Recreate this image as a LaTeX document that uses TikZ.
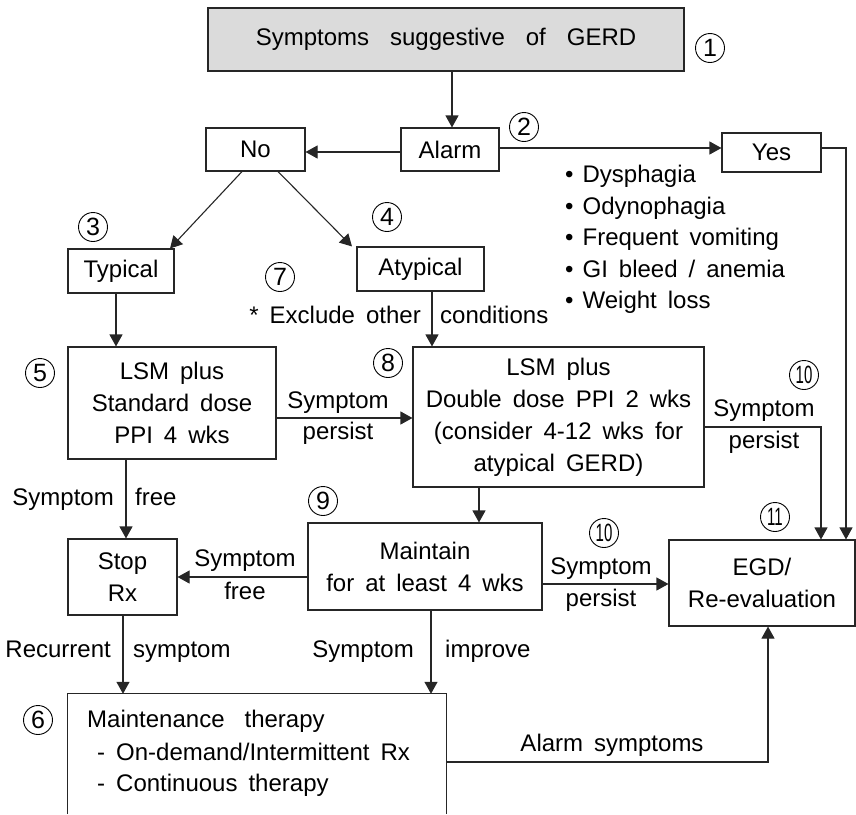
\documentclass[tikz,border=0pt]{standalone}
\usepackage{fontspec}
\setmainfont{Liberation Sans}[WordSpace=1.65]
\usetikzlibrary{arrows.meta}
\newcommand{\myfs}{\fontsize{24}{32}\selectfont}
\newcommand{\narrow}[1]{\scalebox{0.6}[1]{#1}}
\begin{document}
\begin{tikzpicture}[x=1pt,y=-1pt,
  box/.style={draw=black!85, line width=1.1pt, inner sep=0pt, align=center, font=\myfs},
  lbl/.style={inner sep=0pt, font=\myfs, text height=17pt, text depth=0pt},
  conn/.style={draw=black!85, line width=1.1pt},
  arr/.style={conn, -{Triangle[length=12pt,width=13pt]}},
  num/.style={circle, draw=black, line width=0.9pt, inner sep=0pt, minimum size=29pt, font=\fontsize{25}{25}\selectfont}]
\useasboundingbox (0,0) rectangle (856,814);

% helper coordinates for connector positions
\coordinate (cTop) at (452,0);
\coordinate (yL) at (0,152);
\coordinate (yR) at (0,148);
\coordinate (xYes) at (846,0);
\coordinate (c242) at (242,0);
\coordinate (c170) at (170,0);
\coordinate (c278) at (278,0);
\coordinate (c352) at (352,0);
\coordinate (c116) at (116,0);
\coordinate (c432) at (432,0);
\coordinate (y418) at (0,418);
\coordinate (y427) at (0,427);
\coordinate (c821) at (821,0);
\coordinate (c126) at (126,0);
\coordinate (c479) at (479,0);
\coordinate (y577) at (0,577);
\coordinate (y584) at (0,584);
\coordinate (c123) at (123,0);
\coordinate (c431) at (431,0);
\coordinate (y762) at (0,762);
\coordinate (c768) at (768,0);

% boxes
\node[box, fill=gray!28, minimum width=476pt, minimum height=63pt] (top) at (446,39.5)
  {Symptoms\hspace{21pt}suggestive\hspace{21pt}of\hspace{21pt}GERD};
\node[box, minimum width=98pt, minimum height=43pt] (alarm) at (450,149.5) {Alarm};
\node[box, minimum width=99pt, minimum height=43pt] (no) at (255.5,149.5) {No};
\node[box, minimum width=99pt, minimum height=39pt] (yes) at (771.5,152.5) {Yes};
\node[box, minimum width=106pt, minimum height=44pt] (typ) at (121,271) {Typical};
\node[box, minimum width=127pt, minimum height=44pt] (atyp) at (420.5,269) {Atypical};
\node[box, minimum width=208pt, minimum height=112pt] (lsm1) at (172,403)
  {LSM plus\\Standard dose\\PPI 4 wks};
\node[box, minimum width=291pt, minimum height=140pt] (lsm2) at (558.5,417)
  {LSM plus\\Double dose PPI 2 wks\\(consider 4-12 wks for\\atypical GERD)};
\node[box, minimum width=109pt, minimum height=76pt] (stop) at (122.5,577) {Stop\\Rx};
\node[box, minimum width=234pt, minimum height=87pt] (maint) at (425,566.5)
  {Maintain\\for at least 4 wks};
\node[box, minimum width=186pt, minimum height=86pt] (egd) at (762,583)
  {EGD/\\Re-evaluation};
\node[inner sep=0pt, minimum width=378pt, minimum height=120pt] (mt) at (257,754) {};
\draw[conn] (mt.south west) -- (mt.north west) -- (mt.north east) -- (mt.south east);
\node[lbl, anchor=west] (mt1) at (87,719) {Maintenance\hspace{20pt}therapy};
\node[lbl, anchor=west] (mt2) at (97,752) {- On-demand/Intermittent Rx};
\node[lbl, anchor=west] (mt3) at (97,783) {- Continuous therapy};

% bullets
\node[lbl, anchor=west] (b1) at (565,174) {\textbullet\hspace{9pt}Dysphagia};
\node[lbl, anchor=west] (b2) at (565,205.5) {\textbullet\hspace{9pt}Odynophagia};
\node[lbl, anchor=west] (b3) at (565,237) {\textbullet\hspace{9pt}Frequent vomiting};
\node[lbl, anchor=west] (b4) at (565,268.5) {\textbullet\hspace{9pt}GI bleed / anemia};
\node[lbl, anchor=west] (b5) at (565,300) {\textbullet\hspace{9pt}Weight loss};

% numbers
\node[num] (n1) at (710,48) {1};
\node[num] (n2) at (524,127) {2};
\node[num] (n3) at (93,227) {3};
\node[num] (n4) at (387,217) {4};
\node[num] (n5) at (40,373) {5};
\node[num] (n6) at (38,720) {6};
\node[num] (n7) at (280,277) {7};
\node[num] (n8) at (388,363) {8};
\node[num] (n9) at (323,501) {9};
\node[num] (n10a) at (804,375) {\narrow{10}};
\node[num] (n10b) at (604,533) {\narrow{10}};
\node[num] (n11) at (775,517) {\narrow{11}};

% connectors
\draw[arr] (top.south -| cTop) -- (alarm.north -| cTop);
\draw[arr] (alarm.west |- yL) -- (no.east |- yL);
\draw[arr] (alarm.east |- yR) -- (yes.west |- yR);
\draw[arr] (yes.east |- yR) -- (xYes |- yR) -- (egd.north -| xYes);
\draw[arr] (no.south -| c242) -- (typ.north -| c170);
\draw[arr] (no.south -| c278) -- (atyp.north -| c352);
\draw[arr] (typ.south -| c116) -- (lsm1.north -| c116);
\draw[arr] (atyp.south -| c432) -- (lsm2.north -| c432);
\draw[arr] (lsm1.east |- y418) -- (lsm2.west |- y418);
\draw[arr] (lsm2.east |- y427) -- (c821 |- y427) -- (egd.north -| c821);
\draw[arr] (lsm1.south -| c126) -- (stop.north -| c126);
\draw[arr] (lsm2.south -| c479) -- (maint.north -| c479);
\draw[arr] (maint.west |- y577) -- (stop.east |- y577);
\draw[arr] (maint.east |- y584) -- (egd.west |- y584);
\draw[arr] (stop.south -| c123) -- (mt.north -| c123);
\draw[arr] (maint.south -| c431) -- (mt.north -| c431);
\draw[arr] (mt.east |- y762) -- (c768 |- y762) -- (egd.south -| c768);

% connector labels
\node[lbl] (l1) at (338,400) {Symptom};
\node[lbl] (l2) at (338,431) {persist};
\node[lbl, anchor=east] (l3) at (421,315) {* Exclude other};
\node[lbl, anchor=west] (l4) at (440,315) {conditions};
\node[lbl] (l5) at (764,408) {Symptom};
\node[lbl] (l6) at (764,440) {persist};
\node[lbl, anchor=east] (l7) at (114,497) {Symptom};
\node[lbl, anchor=west] (l8) at (135,497) {free};
\node[lbl] (l9) at (245,558) {Symptom};
\node[lbl] (l10) at (245,591) {free};
\node[lbl] (l11) at (601,566) {Symptom};
\node[lbl] (l12) at (601,598) {persist};
\node[lbl, anchor=east] (l13) at (111,649) {Recurrent};
\node[lbl, anchor=west] (l14) at (133,649) {symptom};
\node[lbl, anchor=east] (l15) at (414,649) {Symptom};
\node[lbl, anchor=west] (l16) at (445,649) {improve};
\node[lbl] (l17) at (612,743) {Alarm symptoms};
\end{tikzpicture}
\end{document}
